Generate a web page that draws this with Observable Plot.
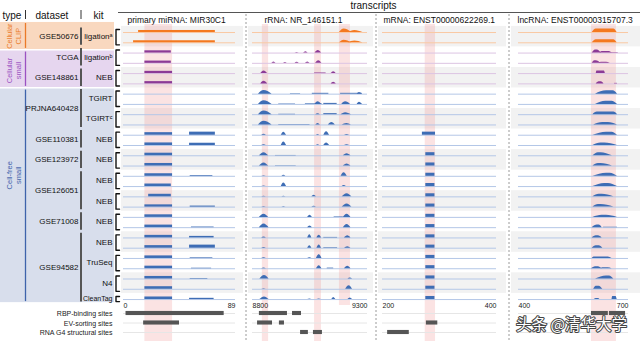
<!DOCTYPE html>
<html><head><meta charset="utf-8">
<script src="https://cdn.jsdelivr.net/npm/d3@7"></script>
<script src="https://cdn.jsdelivr.net/npm/@observablehq/plot@0.6"></script>
<style>
html,body{margin:0;padding:0;background:#fff;}
#chart{position:relative;width:640px;height:341px;overflow:hidden;}
#chart svg{position:absolute;left:0;top:0;}
</style></head><body><div id="chart"></div>
<script>
// ---------------- data ----------------
const typeNames = ["Cellular\nCLIP", "Cellular\nsmall", "Cell-free\nsmall"];
const typeFirstRow = [0, 2, 6];
const typeLastRow = [1, 5, 26];
const datasetNames = ["GSE50676","TCGA","GSE148861","PRJNA640428","GSE110381","GSE123972","GSE126051","GSE71008","GSE94582"];
const datasetFirstRow = [0,2,4,6,10,12,14,18,20];
const datasetLastRow = [1,3,5,9,11,13,17,19,26];
const kitNames = ["ligationᵃ","ligationᵇ","NEB","TGIRT","TGIRTᶜ","NEB","NEB","NEB","NEB","NEB","NEB","TruSeq","N4","CleanTag"];
const kitFirstRow = [0,2,4,6,8,10,12,14,16,18,20,22,24,26];
const kitLastRow = [1,3,5,7,9,11,13,15,17,19,21,23,25,26];
const headerLabels = ["type","dataset","kit"];
const superTitle = "transcripts";
const panelTitles = ["primary miRNA: MIR30C1","rRNA: NR_146151.1","mRNA: ENST00000622269.1","lncRNA: ENST00000315707.3"];
const panelDomains = [[0,89],[8800,9300],[200,400],[400,700]];
const panelTickLabels = [["0","89"],["8800","9300"],["200","400"],["400","700"]];
const annotationTracks = ["RBP-binding sites","EV-sorting sites","RNA G4 structural sites"];

// signal plateaus: [row, start, end, height]
const mirnaBlocks = [
 [0,12,73,0.2],[1,8,73,0.2],
 [2,17,38,0.22],[3,17,38,0.22],[4,17,39,0.22],[5,17,39,0.22],
 [10,17,39,0.25],[10,52.5,73,0.3],[11,17,39,0.25],[11,52.5,73,0.22],
 [12,17,39,0.25],[13,17,39,0.25],[14,17,39,0.25],[14,53,71,0.07],
 [15,17,38,0.25],[16,20,38,0.25],[17,17,39,0.22],[17,53,73,0.1],
 [18,17,39,0.25],[19,17,39,0.25],[19,54,72,0.06],[20,17,39,0.25],[20,52.5,72,0.15],
 [21,17,39,0.25],[21,52.5,73,0.3],[22,17,39,0.25],[22,53,71,0.06],
 [23,17,39,0.25],[23,54,70,0.05],[24,17,39,0.25],[24,53,67,0.05],
 [25,17,39,0.25],[26,17,39,0.25],[26,52.5,72,0.12]
];
// humps: [row, start, peak, end, height]
const rrnaPeaks = [
 [0,9178,9198,9232,0.35],[0,9215,9245,9280,0.2],
 [1,9178,9198,9232,0.25],[1,9215,9245,9280,0.18],
 [2,8985,8994,9003,0.06],[2,9022,9032,9042,0.12],[2,9072,9086,9100,0.25],
 [3,8884,8893,8902,0.12],[3,8935,8943,8951,0.08],[3,8985,8994,9003,0.1],[3,9030,9040,9050,0.12],[3,9074,9088,9102,0.25],
 [4,8836,8850,8866,0.25],[4,9142,9153,9164,0.18],
 [5,8836,8850,8866,0.25],[5,9142,9153,9164,0.15],
 [6,8826,8850,8885,0.35],[6,9255,9265,9278,0.15],
 [7,8826,8850,8885,0.35],[7,9072,9085,9100,0.25],[7,9188,9205,9226,0.25],[7,9255,9265,9278,0.2],
 [8,8826,8850,8885,0.35],[8,9075,9085,9095,0.1],[8,9185,9205,9230,0.2],
 [9,8826,8850,8885,0.35],[9,9075,9085,9095,0.15],[9,9130,9145,9160,0.25],[9,9190,9210,9230,0.15],
 [10,8840,8850,8860,0.1],[10,8925,8936,8948,0.3],[10,9078,9085,9092,0.08],[10,9110,9122,9135,0.35],[10,9200,9211,9222,0.08],
 [11,8840,8850,8860,0.08],[11,8925,8936,8948,0.35],[11,9078,9085,9092,0.08],[11,9110,9122,9135,0.25],[11,9200,9211,9222,0.08],
 [12,8830,8850,8870,0.3],[12,9195,9211,9228,0.2],
 [13,8830,8850,8870,0.3],[13,9195,9211,9228,0.2],
 [14,8840,8850,8860,0.05],[14,8928,8936,8945,0.1],[14,9185,9198,9212,0.35],
 [15,8840,8850,8860,0.06],[15,8925,8936,8948,0.35],[15,9190,9198,9208,0.1],
 [16,8840,8850,8860,0.06],[16,8928,8936,8945,0.06],[16,9058,9068,9078,0.15],[16,9190,9211,9232,0.3],
 [17,8840,8850,8860,0.06],[17,8928,8936,8945,0.06],[17,9058,9068,9078,0.08],[17,9190,9211,9232,0.3],
 [18,8830,8850,8870,0.3],[18,9040,9050,9060,0.2],[18,9195,9211,9228,0.3],
 [19,8830,8850,8872,0.35],[19,9040,9050,9060,0.15],[19,9195,9211,9228,0.3],
 [20,8840,8850,8860,0.08],[20,9040,9049,9058,0.3],[20,9080,9090,9100,0.25],[20,9200,9214,9228,0.2],
 [21,8840,8850,8860,0.08],[21,9040,9049,9058,0.25],[21,9080,9090,9100,0.3],[21,9200,9214,9228,0.15],
 [22,8840,8850,8860,0.06],[22,9040,9049,9058,0.08],[22,9078,9090,9102,0.35],
 [23,8840,8850,8860,0.06],[23,9078,9090,9102,0.3],[23,9200,9214,9228,0.25],
 [24,8832,8852,8872,0.35],[24,9215,9225,9235,0.1],
 [25,8840,8850,8860,0.06],[25,9205,9220,9235,0.35],
 [26,8832,8852,8872,0.25],[26,9040,9049,9058,0.06],[26,9080,9090,9100,0.06],[26,9145,9153,9162,0.2],[26,9215,9225,9235,0.15]
];
const rrnaBlocks = [
 [4,9070,9120,0.06],
 [6,8965,9009,0.04],[6,9060,9132,0.08],[6,9183,9277,0.08],
 [7,8914,8987,0.04],[7,9030,9103,0.06],[7,9110,9168,0.1],
 [8,8914,8987,0.04],[8,9110,9168,0.1],[9,8914,9050,0.04],
 [12,8900,8990,0.03],[13,8900,8990,0.03],[18,9155,9195,0.05],
 [20,9110,9170,0.05],[21,9110,9170,0.05],[23,9125,9153,0.06]
];
const mrnaBlocks = [
 [10,270,293,0.3],[12,276,292,0.3],[13,276,292,0.3],[14,276,292,0.3],[15,276,292,0.3],
 [16,276,292,0.3],[17,276,292,0.3],[18,276,292,0.3],[19,276,292,0.3],[20,276,292,0.3],
 [21,276,292,0.3],[22,276,292,0.3],[23,276,292,0.3],[24,276,292,0.3],[25,276,292,0.3],[26,276,292,0.3]
];
// flat-topped mounds: [row, start, topStart, topEnd, end, height]
const lncPeaks = [
 [0,601,612,660,669,0.35],[1,601,612,660,669,0.3],
 [2,601,610,615,626,0.3],[2,622,628,648,655,0.15],
 [3,601,608,612,625,0.25],[3,620,626,640,650,0.1],
 [4,612,614,634,637,0.25],[5,612,620,626,633,0.2],
 [6,610,640,658,670,0.32],[7,610,638,655,670,0.3],[8,603,615,660,670,0.25],
 [9,605,630,645,670,0.25],[10,603,640,655,670,0.3],[11,603,625,635,670,0.25],
 [12,603,618,625,656,0.3],[13,603,618,625,656,0.25],[14,603,640,650,670,0.3],
 [15,603,635,645,670,0.3],[16,603,620,628,660,0.25],[17,603,618,625,660,0.25],
 [18,603,628,640,670,0.2],[19,601,615,620,628,0.25],[20,601,612,618,628,0.2],
 [21,601,612,620,630,0.25],[22,601,606,645,655,0.15],[23,599,610,618,628,0.2],
 [23,625,630,645,655,0.1],[24,610,640,648,660,0.3],[25,605,612,620,630,0.3],
 [26,607,612,618,622,0.1],[26,655,657,666,669,0.3]
];
const lncBlocks = [[2,653,672,0.04],[19,632,670,0.04],[5,662,670,0.05]];

// highlighted regions: [start, end, reachesAnnotations]
const mirnaHighlights = [[17,39,true]];
const rrnaHighlights = [[8843,8870,true],[9070,9100,true],[9178,9226,false]];
const mrnaHighlights = [[275,293,true]];
const lncHighlights = [[599,667,true]];

// annotation sites: [annotationTrack, start, end]
const mirnaSites = [[0,2,80],[1,16,44.5]];
const rrnaSites = [[0,8830,8952],[0,8974,9013],[1,8822,8887],[1,8917,8939],[2,9009,9043],[2,9065,9104]];
const mrnaSites = [[1,277,297],[2,209,247]];
const lncSites = [[0,599,645],[0,648,692]];

const watermark = "头条 @清华大学";

// ---------------- layout & style ----------------
const ROW0 = 31, STEP = 10.27;
const rowOf = py => (py - ROW0) / STEP;
const Y = {domain:[-3,30], range:[ROW0 - 3*STEP, ROW0 + 30*STEP], axis:null};
const BASE = 0.1;
const L = {
  panelRange: [[123,235],[252,367],[382,496],[518,628]],
  panelBg: [[121,243],[248,373],[378,506],[511,640]],
  titleX: [127,264,383,517],
  separators: [245.5,375.5,508.5],
  typeBlockY: [[-0.88,1.75],[1.9,5.45],[5.6,26.4]],
  typeTextY: [0.45,3.8,14],
  annotationY: [rowOf(313),rowOf(322.5),rowOf(332)],
  tickRow: rowOf(305),
  bandTop: rowOf(24), bandBottomFull: rowOf(342), bandBottomShort: rowOf(305)
};
const FONT = "'Liberation Sans', Arial, Helvetica, sans-serif";
const typeColor = ["#ea7a28","#9b52c2","#3f63ab"];
const typeFill = ["#f9d8bf","#e6d6ef","#d8deec"];
const signal = ["#f47920","#8b3a96","#3e6db5"];
const pale = ["#f9c9a3","#dcc4e3","#b4c7e7"];
const typeOf = r => r < 2 ? 0 : r < 6 ? 1 : 2;
const rows = d3.range(27);

const chart = document.getElementById("chart");
const common = {width:640, height:341, margin:0, y:Y, color:{type:"identity"},
  style:{background:"transparent", fontFamily:FONT, overflow:"visible"}};

// ---------------- background / labels ----------------
const greyBands = [];
kitFirstRow.forEach((f,k) => { if (k % 2 === 0) L.panelBg.forEach(b => greyBands.push({x1:b[0],x2:b[1],y1:f-0.5,y2:kitLastRow[k]+0.5})); });
const brackets = [];
kitFirstRow.forEach((f,k) => {
  const y1 = f - 0.2, y2 = kitLastRow[k] + 0.3;
  [[119,y1],[115.5,y1],[115.5,y2],[119,y2]].forEach(([x,y]) => brackets.push({k,x,y}));
});
const types = typeNames.map((n,i) => ({i,n}));
const datasets = datasetNames.map((n,i) => ({n,f:datasetFirstRow[i],l:datasetLastRow[i]}));
const kits = kitNames.map((n,i) => ({n,f:kitFirstRow[i],l:kitLastRow[i]}));

const bg = Plot.plot({...common, x:{domain:[0,640], range:[0,640], axis:null}, marks:[
  Plot.rect(greyBands, {x1:"x1",x2:"x2",y1:"y1",y2:"y2",fill:"#f2f2f2"}),
  Plot.rect(types, {x1:0,x2:114,y1:d=>L.typeBlockY[d.i][0],y2:d=>L.typeBlockY[d.i][1],fill:d=>typeFill[d.i]}),
  Plot.ruleX(types, {x:25,y1:d=>L.typeBlockY[d.i][0]+0.1,y2:d=>L.typeBlockY[d.i][1]-0.1,stroke:d=>typeColor[d.i],strokeWidth:1.3}),
  Plot.text(types, {x:13,y:d=>L.typeTextY[d.i],text:"n",rotate:-90,fill:d=>typeColor[d.i],fontSize:7.5,lineHeight:1.25}),
  Plot.text(datasets, {x:78,y:d=>(d.f+d.l)/2,text:"n",textAnchor:"end",fontSize:8,fill:"#111"}),
  Plot.ruleX(datasets, {x:80.5,y1:d=>d.f-0.35,y2:d=>d.l+0.35,stroke:"#555",strokeWidth:2}),
  Plot.text(kits, {x:112,y:d=>(d.f+d.l)/2,text:"n",textAnchor:"end",fontSize:d=>d.n==="CleanTag"?7:8,fill:"#111"}),
  Plot.line(brackets, {x:"x",y:"y",z:"k",stroke:"#111",strokeWidth:1.4}),
  Plot.text(headerLabels, {x:(d,i)=>[2,35,93][i],y:rowOf(15),text:d=>d,textAnchor:"start",fontSize:10,fill:"#111"}),
  Plot.ruleX([25,80.5], {x:d=>d,y1:rowOf(10),y2:rowOf(19),stroke:"#333",strokeWidth:1}),
  Plot.ruleY([rowOf(12)], {y:d=>d,x1:118,x2:640,stroke:"#555",strokeWidth:1}),
  Plot.text([superTitle], {x:373,y:rowOf(5.5),text:d=>d,fontSize:10,fill:"#111"}),
  Plot.text(panelTitles, {x:(d,i)=>L.titleX[i],y:rowOf(19.5),text:d=>d,textAnchor:"start",fontSize:8.5,fill:"#111"}),
  Plot.ruleX(L.separators, {x:d=>d,y1:rowOf(14),y2:rowOf(342),stroke:"#9a9a9a",strokeDasharray:"2,2"}),
  Plot.text(annotationTracks, {x:112,y:(d,i)=>L.annotationY[i]+0.05,text:d=>d,textAnchor:"end",fontSize:7,fill:"#222"})
]});
chart.appendChild(bg);

// ---------------- track panels ----------------
function panelPlot(i, peaks, blocks, highlights, sites) {
  const [d0,d1] = panelDomains[i];
  const pts = [];
  peaks.forEach((p,k) => {
    const row = p[0], h = p[p.length-1];
    const shape = p.length === 5 ? [[p[1],0],[p[2],h],[p[3],0]] : [[p[1],0],[p[2],h],[p[3],h],[p[4],0]];
    shape.forEach(([x,v]) => pts.push({id:k,row,x,base:row+BASE,top:row+BASE-v}));
  });
  return Plot.plot({...common, x:{domain:[d0,d1], range:L.panelRange[i], axis:null}, marks:[
    Plot.rect(highlights, {x1:d=>d[0],x2:d=>d[1],y1:L.bandTop,y2:d=>d[2]?L.bandBottomFull:L.bandBottomShort,fill:"#f19a9a",fillOpacity:0.28}),
    Plot.ruleY(rows, {y:r=>r+BASE,x1:d0,x2:d1,stroke:r=>pale[typeOf(r)],strokeWidth:1}),
    Plot.rect(blocks, {x1:d=>d[1],x2:d=>d[2],y1:d=>d[0]+BASE,y2:d=>d[0]+BASE-d[3],fill:d=>signal[typeOf(d[0])]}),
    Plot.areaY(pts, {x:"x",y1:"base",y2:"top",z:"id",fill:d=>signal[typeOf(d.row)],curve:"monotone-x"}),
    Plot.ruleY(L.annotationY, {y:d=>d,x1:d0,x2:d1,stroke:"#e6e6e6"}),
    Plot.rect(sites, {x1:d=>d[1],x2:d=>d[2],y1:d=>L.annotationY[d[0]]-0.2,y2:d=>L.annotationY[d[0]]+0.2,fill:"#555"}),
    Plot.text([panelTickLabels[i][0]], {x:d0,y:L.tickRow,text:d=>d,textAnchor:"start",fontSize:7,fill:"#222"}),
    Plot.text([panelTickLabels[i][1]], {x:d1,y:L.tickRow,text:d=>d,textAnchor:"end",fontSize:7,fill:"#222"})
  ]});
}
chart.appendChild(panelPlot(0, [], mirnaBlocks, mirnaHighlights, mirnaSites));
chart.appendChild(panelPlot(1, rrnaPeaks, rrnaBlocks, rrnaHighlights, rrnaSites));
chart.appendChild(panelPlot(2, [], mrnaBlocks, mrnaHighlights, mrnaSites));
chart.appendChild(panelPlot(3, lncPeaks, lncBlocks, lncHighlights, lncSites));

// ---------------- watermark ----------------
chart.appendChild(Plot.plot({...common, x:{domain:[0,640], range:[0,640], axis:null}, marks:[
  Plot.text([watermark], {x:571,y:rowOf(325),text:d=>d,fontSize:15.5,fontFamily:"'Noto Sans CJK SC', sans-serif",
    fill:"white",stroke:"#444",strokeWidth:2,paintOrder:"stroke"})
]}));
</script></body></html>
